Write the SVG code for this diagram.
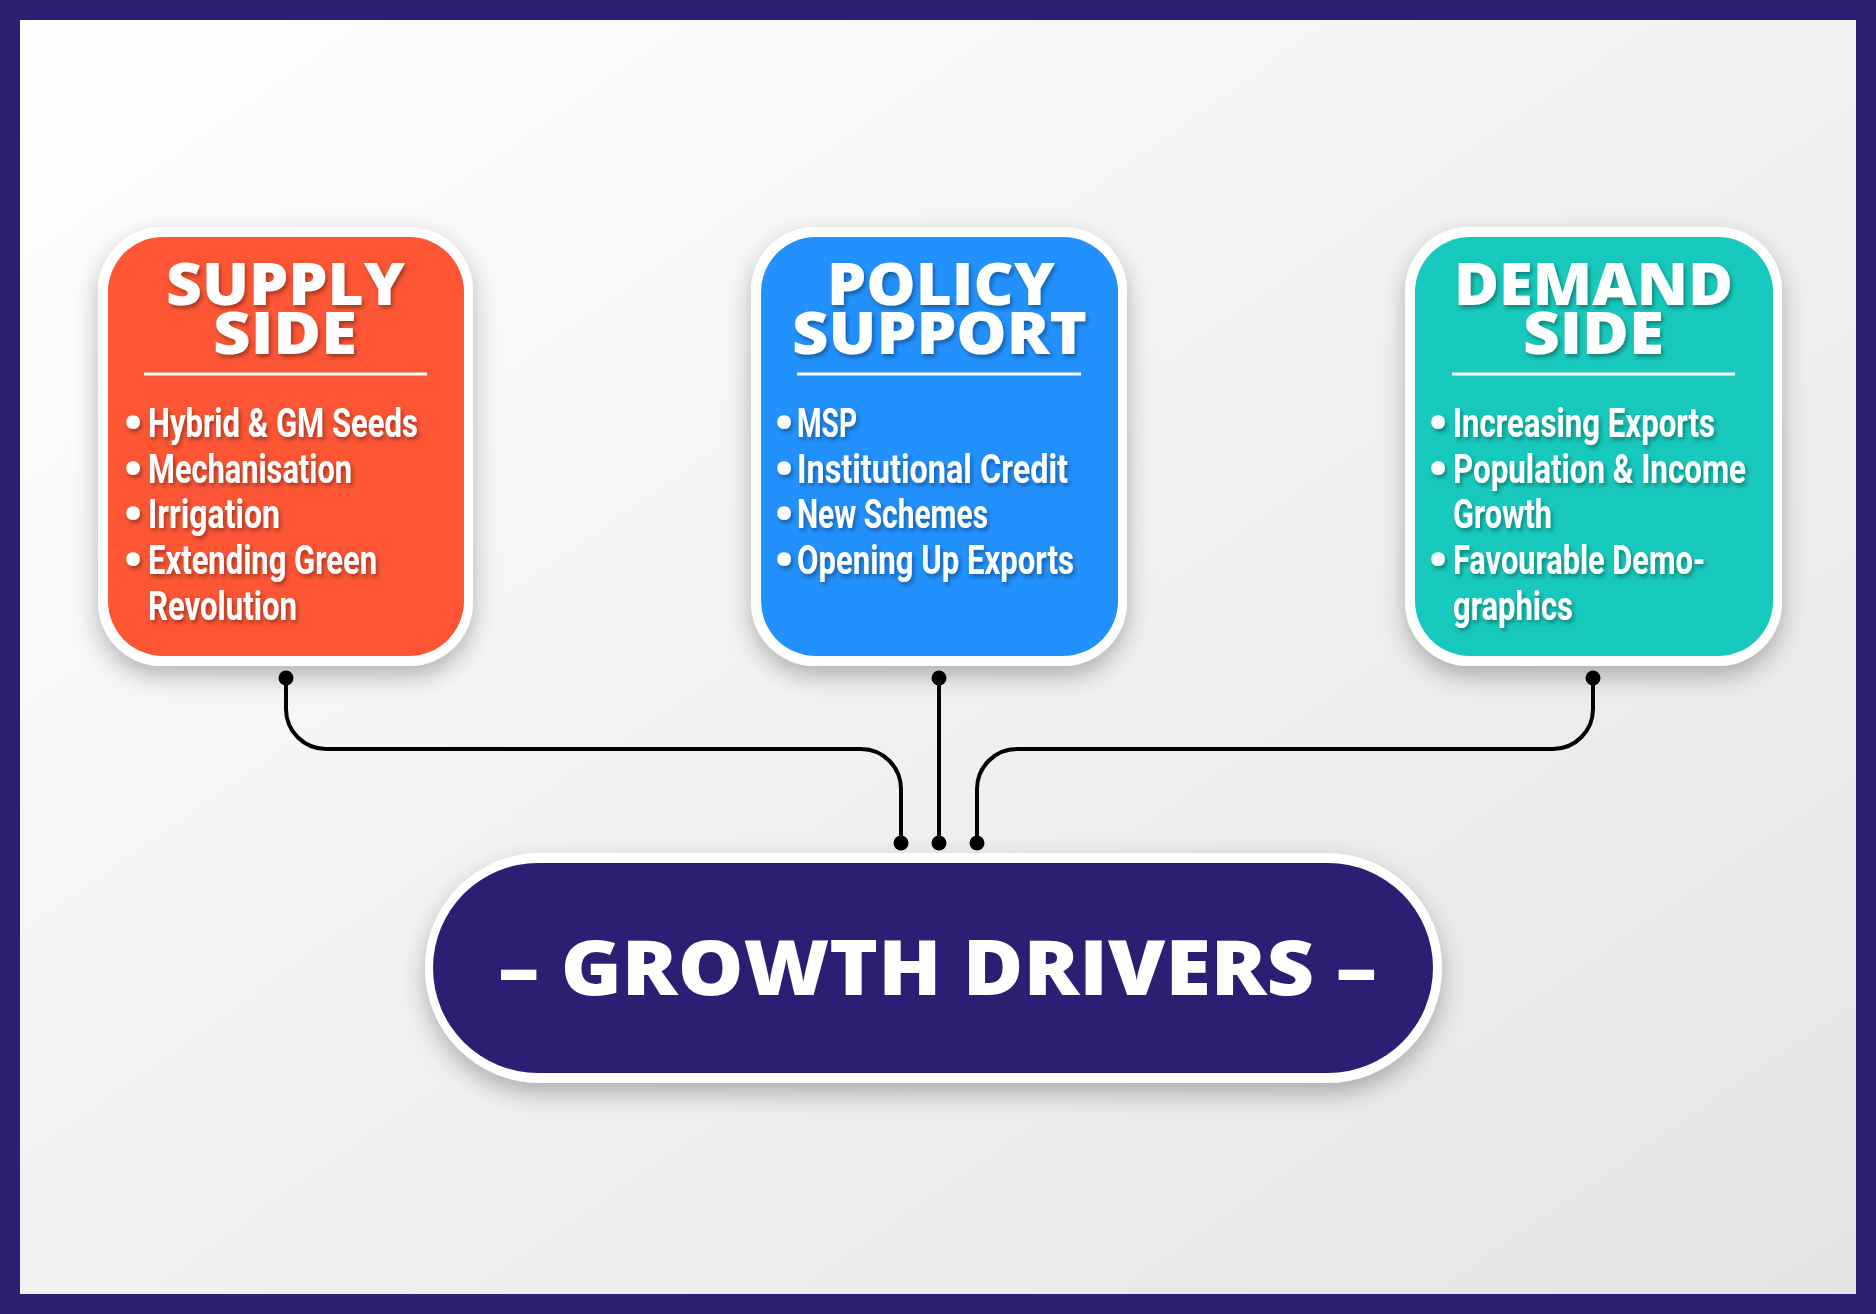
<svg xmlns="http://www.w3.org/2000/svg" width="1876" height="1314" viewBox="0 0 1876 1314">
  <defs>
    <linearGradient id="bg" x1="0" y1="0" x2="1" y2="1">
      <stop offset="0" stop-color="#ffffff"/>
      <stop offset="1" stop-color="#e4e4e4"/>
    </linearGradient>
    <filter id="boxShadow" x="-20%" y="-20%" width="140%" height="150%">
      <feDropShadow dx="0" dy="10" stdDeviation="12" flood-color="#000" flood-opacity="0.28"/>
    </filter>
    <filter id="txtShadow" x="-10%" y="-30%" width="120%" height="160%">
      <feDropShadow dx="2" dy="3" stdDeviation="2" flood-color="#000" flood-opacity="0.35"/>
    </filter>
    <marker id="dot" viewBox="0 0 16 16" refX="8" refY="8" markerWidth="16" markerHeight="16" markerUnits="userSpaceOnUse">
      <circle cx="8" cy="8" r="7.5" fill="#000"/>
    </marker>
  </defs>
  <style>
    .title { font-family: "Open Sans", "Liberation Sans", sans-serif; font-weight: 800; font-size: 58px; fill: #fff; }
    .item { font-family: Roboto, "Liberation Sans", sans-serif; font-weight: 700; font-size: 41px; fill: #fff; }
    .bullet { font-family: Roboto, "Liberation Sans", sans-serif; font-weight: 700; font-size: 58px; fill: #fff; text-anchor: middle; }
    .rule { stroke: #fff; stroke-width: 3; }
    .outer { fill: #fff; }
    .conn { fill: none; stroke: #000; stroke-width: 4; marker-start: url(#dot); marker-end: url(#dot); }
    .main { font-family: "Open Sans", "Liberation Sans", sans-serif; font-weight: 800; font-size: 76px; fill: #fff; }
  </style>

  <rect x="0" y="0" width="1876" height="1314" fill="#2c1f73"/>
  <rect x="20" y="20" width="1836" height="1274" fill="url(#bg)"/>

  <g id="connectors">
    <path class="conn" d="M286,678 V709 A40,40 0 0 0 326,749 H861 A40,40 0 0 1 901,789 V843"/>
    <path class="conn" d="M939,678 V843"/>
    <path class="conn" d="M1593,678 V709 A40,40 0 0 1 1553,749 H1017 A40,40 0 0 0 977,789 V843"/>
  </g>

  <g id="supply-side">
    <rect class="outer" x="98" y="227" width="375" height="439" rx="64" filter="url(#boxShadow)"/>
    <rect x="108" y="237" width="356" height="419" rx="55" fill="#fe5634"/>
    <g filter="url(#txtShadow)">
      <text class="title" x="166" y="305" textLength="239" lengthAdjust="spacingAndGlyphs">SUPPLY</text>
      <text class="title" x="213" y="354" textLength="144" lengthAdjust="spacingAndGlyphs">SIDE</text>
      <text class="bullet" x="133" y="443">•</text>
      <text class="item" x="148" y="437" textLength="270" lengthAdjust="spacingAndGlyphs">Hybrid &amp; GM Seeds</text>
      <text class="bullet" x="133" y="489">•</text>
      <text class="item" x="148" y="483" textLength="204" lengthAdjust="spacingAndGlyphs">Mechanisation</text>
      <text class="bullet" x="133" y="534">•</text>
      <text class="item" x="148" y="528" textLength="132" lengthAdjust="spacingAndGlyphs">Irrigation</text>
      <text class="bullet" x="133" y="580">•</text>
      <text class="item" x="148" y="574" textLength="229" lengthAdjust="spacingAndGlyphs">Extending Green</text>
      <text class="item" x="148" y="620" textLength="149" lengthAdjust="spacingAndGlyphs">Revolution</text>
    </g>
    <line class="rule" x1="144" y1="374" x2="427" y2="374"/>
  </g>

  <g id="policy-support">
    <rect class="outer" x="751" y="227" width="376" height="439" rx="64" filter="url(#boxShadow)"/>
    <rect x="761" y="237" width="357" height="419" rx="55" fill="#2291fe"/>
    <g filter="url(#txtShadow)">
      <text class="title" x="827" y="305" textLength="228" lengthAdjust="spacingAndGlyphs">POLICY</text>
      <text class="title" x="792" y="354" textLength="295" lengthAdjust="spacingAndGlyphs">SUPPORT</text>
      <text class="bullet" x="784" y="443">•</text>
      <text class="item" x="797" y="437" textLength="60" lengthAdjust="spacingAndGlyphs">MSP</text>
      <text class="bullet" x="784" y="489">•</text>
      <text class="item" x="797" y="483" textLength="271" lengthAdjust="spacingAndGlyphs">Institutional Credit</text>
      <text class="bullet" x="784" y="534">•</text>
      <text class="item" x="797" y="528" textLength="191" lengthAdjust="spacingAndGlyphs">New Schemes</text>
      <text class="bullet" x="784" y="580">•</text>
      <text class="item" x="797" y="574" textLength="277" lengthAdjust="spacingAndGlyphs">Opening Up Exports</text>
    </g>
    <line class="rule" x1="797" y1="374" x2="1081" y2="374"/>
  </g>

  <g id="demand-side">
    <rect class="outer" x="1405" y="227" width="377" height="439" rx="64" filter="url(#boxShadow)"/>
    <rect x="1415" y="237" width="358" height="419" rx="55" fill="#17c9bc"/>
    <g filter="url(#txtShadow)">
      <text class="title" x="1454" y="305" textLength="279" lengthAdjust="spacingAndGlyphs">DEMAND</text>
      <text class="title" x="1523" y="354" textLength="141" lengthAdjust="spacingAndGlyphs">SIDE</text>
      <text class="bullet" x="1438" y="443">•</text>
      <text class="item" x="1453" y="437" textLength="262" lengthAdjust="spacingAndGlyphs">Increasing Exports</text>
      <text class="bullet" x="1438" y="489">•</text>
      <text class="item" x="1453" y="483" textLength="293" lengthAdjust="spacingAndGlyphs">Population &amp; Income</text>
      <text class="item" x="1453" y="528" textLength="99" lengthAdjust="spacingAndGlyphs">Growth</text>
      <text class="bullet" x="1438" y="580">•</text>
      <text class="item" x="1453" y="574" textLength="252" lengthAdjust="spacingAndGlyphs">Favourable Demo-</text>
      <text class="item" x="1453" y="620" textLength="120" lengthAdjust="spacingAndGlyphs">graphics</text>
    </g>
    <line class="rule" x1="1452" y1="374" x2="1735" y2="374"/>
  </g>

  <g id="growth-drivers">
    <rect class="outer" x="425" y="853" width="1017" height="230" rx="115" filter="url(#boxShadow)"/>
    <rect x="433" y="863" width="1000" height="210" rx="105" fill="#2c1f73"/>
    <text class="main" x="498" y="995" textLength="879" lengthAdjust="spacingAndGlyphs">– GROWTH DRIVERS –</text>
  </g>
</svg>
